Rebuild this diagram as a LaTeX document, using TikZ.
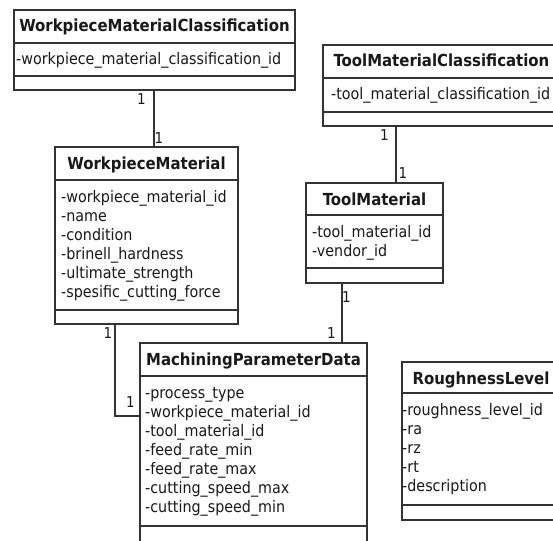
\documentclass[tikz,border=0pt]{standalone}
\usepackage{fontspec}
\setmainfont{DejaVu Sans Condensed}
\begin{document}
\begin{tikzpicture}[x=1pt,y=-1pt,
  line/.style={draw=black!80, line width=1.6pt},
  classbox/.style={line, anchor=north west, inner sep=0pt, outer sep=0pt},
  title/.style={font=\bfseries\fontsize{16.6}{19}\selectfont, text=black!90, anchor=base, inner sep=0pt},
  attr/.style={font=\fontsize{15.9}{19}\selectfont, text=black!90, anchor=base west, inner sep=0pt},
  mult/.style={font=\fontsize{15}{18}\selectfont, text=black!90, inner sep=0pt},
]
% page frame
\useasboundingbox (0,0) rectangle (553,540);
\clip (0,0) rectangle (553,540);
\fill[white] (0,0) rectangle (553,540);

% \umlclass[attribute indent]{name}{(x,y)}{width}{height}{title divider}{attribute divider}{title}{attributes}
\newcommand{\umlclass}[9][6]{%
  \node[classbox, minimum width=#4pt, minimum height=#5pt] (#2) at #3 {};
  \draw[line] ([yshift=-#6pt]#2.north west) -- ([yshift=-#6pt]#2.north east);
  \draw[line] ([yshift=-#7pt]#2.north west) -- ([yshift=-#7pt]#2.north east);
  \node[title] (#2-t) at ([yshift=-22pt]#2.north) {#8};
  \foreach \a [count=\i] in {#9} {
    \pgfmathsetmacro\yy{#6+22+19*(\i-1)}
    \node[attr] (#2-a\i) at ([xshift=#1pt, yshift=-\yy pt]#2.north west) {\a};
  }
}

\umlclass[2]{wmc}{(14,10)}{281}{80}{33}{66}{WorkpieceMaterialClassification}
  {-workpiece\_material\_classification\_id}
\umlclass[6]{wm}{(55,147)}{183}{177}{33}{163}{WorkpieceMaterial}
  {-workpiece\_material\_id,-name,-condition,-brinell\_hardness,-ultimate\_strength,-spesific\_cutting\_force}
\umlclass[8]{tmc}{(323,45)}{237}{81}{33}{67}{ToolMaterialClassification}
  {-tool\_material\_classification\_id}
\umlclass[6]{tm}{(306,183)}{137}{100}{32}{85}{ToolMaterial}
  {-tool\_material\_id,-vendor\_id}
\umlclass[5]{mpd}{(140,343)}{227}{217}{33}{183}{MachiningParameterData}
  {-process\_type,-workpiece\_material\_id,-tool\_material\_id,-feed\_rate\_min,-feed\_rate\_max,-cutting\_speed\_max,-cutting\_speed\_min}
\umlclass[0]{rl}{(402,362)}{158}{158}{31}{143}{RoughnessLevel}
  {-roughness\_level\_id,-ra,-rz,-rt,-description}

% associations
\coordinate (k1) at (154,0);
\coordinate (k2) at (396,0);
\coordinate (k3) at (342,0);
\coordinate (k4) at (115,416);
\draw[line] (wmc.south -| k1) -- (wm.north -| k1);
\draw[line] (tmc.south -| k2) -- (tm.north -| k2);
\draw[line] (tm.south -| k3) -- (mpd.north -| k3);
\draw[line] (wm.south -| k4) -- (k4) -- (mpd.west |- k4);

% multiplicities
\node[mult] (m1) at (141.5,99.5) {1};
\node[mult] (m2) at (159,138) {1};
\node[mult] (m3) at (384.5,135.5) {1};
\node[mult] (m4) at (403,173.5) {1};
\node[mult] (m5) at (346.5,297) {1};
\node[mult] (m6) at (331.5,333) {1};
\node[mult] (m7) at (108,333.5) {1};
\node[mult] (m8) at (130.5,402) {1};
\end{tikzpicture}
\end{document}
